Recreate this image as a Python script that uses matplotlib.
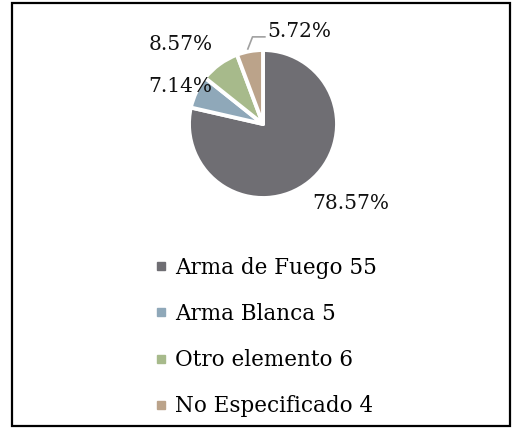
import numpy as np
import matplotlib.pyplot as plt
from matplotlib.lines import Line2D
from matplotlib.patches import Rectangle

# datos
categorias = ['Arma de Fuego', 'Arma Blanca', 'Otro elemento', 'No Especificado']
casos = [55, 5, 6, 4]
porcentajes = ['78.57%', '7.14%', '8.57%', '5.72%']
colores = ['#6f6e73', '#8fa8b9', '#a7ba8b', '#bba38a']

# posicion de etiquetas (distancia en radios, giro en grados)
dist_etq = [1.6, 1.22, 1.55, 1.34]
giro_etq = [9.5, 1.5, 10.0, -32.0]

plt.rcParams['font.family'] = ['DejaVu Serif']

W, H = 516, 429
fig = plt.figure(figsize=(W / 100, H / 100), dpi=100)

# area del pastel: centro (263,124) px, 100 px por unidad
cx, cy, r = 263, 124, 0.74
ax = fig.add_axes([(cx - 100) / W, (H - cy - 100) / H, 200 / W, 200 / H])

wedges, _ = ax.pie(casos, colors=colores, startangle=90, counterclock=False,
                   radius=r, wedgeprops=dict(edgecolor='white', linewidth=2.8,
                                             joinstyle='round'))
ax.set_xlim(-1, 1)
ax.set_ylim(-1, 1)
ax.set_aspect('equal')
ax.axis('off')

for i, w in enumerate(wedges):
    th = np.deg2rad((w.theta1 + w.theta2) / 2 + giro_etq[i])
    x = r * dist_etq[i] * np.cos(th)
    y = r * dist_etq[i] * np.sin(th)
    ax.text(x, y, porcentajes[i], ha='center', va='center', fontsize=14.5,
            color='#111111', clip_on=False)
    if i == 3:
        # linea guia
        tm = np.deg2rad((w.theta1 + w.theta2) / 2)
        x0, y0 = r * 1.02 * np.cos(tm), r * 1.02 * np.sin(tm)
        ax.plot([x0 - 0.02, x0 + 0.03, x - 0.34], [y0, y - 0.05, y - 0.05],
                color='#a0a0a0', lw=1.2, solid_capstyle='butt', clip_on=False)

# leyenda
handles = [Line2D([], [], ls='none', marker='s', markersize=5.5,
                  markerfacecolor=c, markeredgecolor=c) for c in colores]
etiquetas = [f'{c} {n}' for c, n in zip(categorias, casos)]
fig.legend(handles, etiquetas, loc='center left',
           bbox_to_anchor=(146 / W, 1 - 337 / H), frameon=False,
           fontsize=15.5, handlelength=0.6, handletextpad=0.35,
           labelspacing=1.13, borderaxespad=0)

# marco
fig.patches.append(Rectangle((12 / W, 3 / H), 498 / W, 423 / H,
                             transform=fig.transFigure, fill=False,
                             edgecolor='black', linewidth=1.6))

fig.savefig('out.png', dpi=100)
